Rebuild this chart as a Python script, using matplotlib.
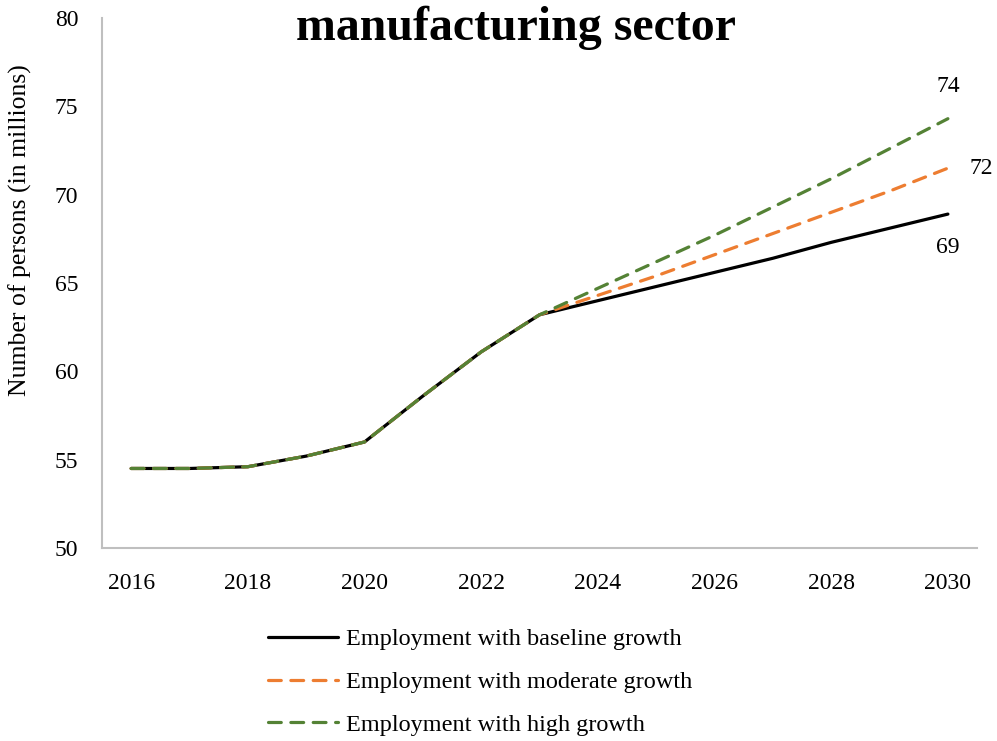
import matplotlib.pyplot as plt

years = [2016, 2017, 2018, 2019, 2020, 2021, 2022, 2023,
         2024, 2025, 2026, 2027, 2028, 2029, 2030]
baseline = [54.5, 54.5, 54.6, 55.2, 56.0, 58.6, 61.1, 63.2,
            64.0, 64.8, 65.6, 66.4, 67.3, 68.1, 68.9]
moderate = [54.5, 54.5, 54.6, 55.2, 56.0, 58.6, 61.1, 63.2,
            64.3, 65.4, 66.6, 67.8, 69.0, 70.2, 71.5]
high = [54.5, 54.5, 54.6, 55.2, 56.0, 58.6, 61.1, 63.2,
        64.7, 66.2, 67.7, 69.3, 70.9, 72.6, 74.3]
series_labels = ["Employment with baseline growth",
                 "Employment with moderate growth",
                 "Employment with high growth"]

plt.rcParams['font.family'] = ['Liberation Serif', 'DejaVu Serif']

fig = plt.figure(figsize=(9.97, 7.41), dpi=100)
ax = fig.add_axes([0.1023, 0.2605, 0.8777, 0.7152])

ax.plot(years, baseline, color="black", lw=2.3, solid_capstyle="round",
        label=series_labels[0])
ax.plot(years, moderate, color="#ED7D31", lw=2.3, dashes=(4, 3),
        dash_capstyle="round", label=series_labels[1])
ax.plot(years, high, color="#548235", lw=2.3, dashes=(4, 3),
        dash_capstyle="round", label=series_labels[2])

# end-of-line value labels
ax.text(years[-1], high[-1] + 1.8, f"{high[-1]:.0f}", fontsize=17,
        ha="center", va="center")
ax.text(years[-1] + 0.58, moderate[-1], f"{moderate[-1]:.0f}", fontsize=17,
        ha="center", va="center")
ax.text(years[-1], baseline[-1] - 1.9, f"{baseline[-1]:.0f}", fontsize=17,
        ha="center", va="center")

ax.set_xlim(2015.5, 2030.5)
ax.set_ylim(50, 80)
ax.set_xticks(range(2016, 2031, 2))
ax.set_yticks(range(50, 81, 5))
ax.tick_params(length=0, labelsize=17)
ax.tick_params(axis="y", pad=17)
ax.tick_params(axis="x", pad=18)
for side in ["top", "right"]:
    ax.spines[side].set_visible(False)
for side in ["left", "bottom"]:
    ax.spines[side].set_color("#bfbfbf")
    ax.spines[side].set_linewidth(1.5)

ax.set_ylabel("Number of persons (in millions)", fontsize=18.5)
ax.yaxis.set_label_coords(-0.08, 0.6)

fig.text(0.518, 0.962, "manufacturing sector", fontsize=34.5,
         fontweight="bold", ha="center", va="center")

fig.legend(loc="upper left", bbox_to_anchor=(0.259, 0.165), frameon=False,
           fontsize=17.5, handlelength=2.9, handletextpad=0.3, labelspacing=0.85,
           borderaxespad=0)

plt.savefig("out.png", dpi=100)
plt.close()
